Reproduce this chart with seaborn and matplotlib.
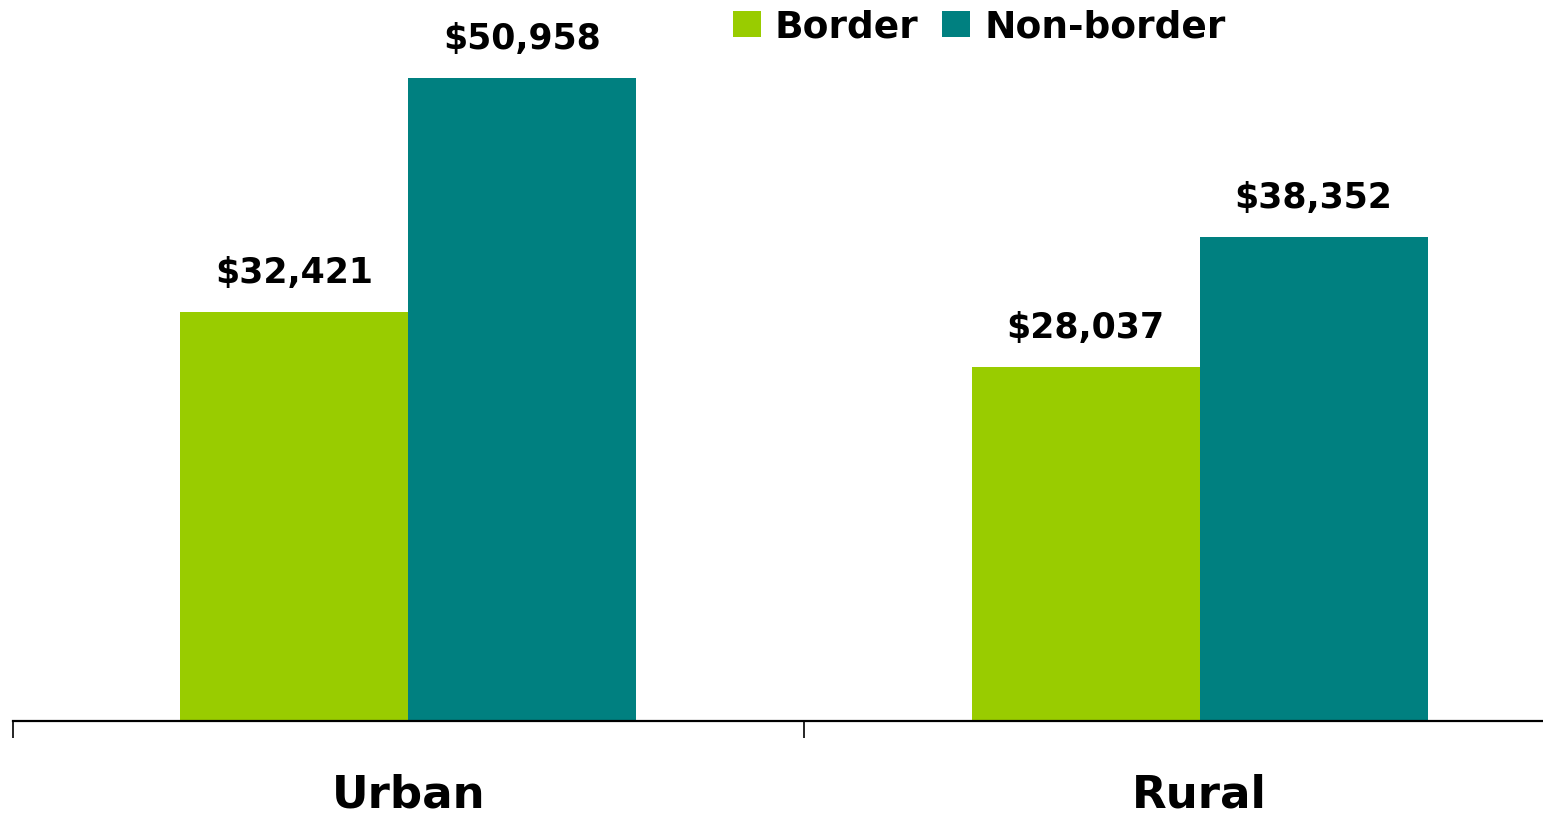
import pandas as pd
import numpy as np
import matplotlib
matplotlib.use("Agg")
import matplotlib.pyplot as plt
import seaborn as sns

# data
areas = ["Urban", "Rural"]
groups = ["Border", "Non-border"]
border_income = [32421, 28037]
nonborder_income = [50958, 38352]
colors = ["#99CC00", "#008080"]

df = pd.DataFrame({
    "area": areas * 2,
    "group": [groups[0]] * 2 + [groups[1]] * 2,
    "income": border_income + nonborder_income,
})

sns.set_style("white")
plt.rcParams["font.family"] = ["DejaVu Sans"]
plt.rcParams["text.color"] = "black"
plt.rcParams["xtick.color"] = "black"

fig = plt.figure(figsize=(15.43, 8.15), dpi=100)
# axes is a bit wider than the figure: the right category edge is cut off
ax = fig.add_axes([12.6 / 1543, 94 / 815, 1582.8 / 1543, 721 / 815])

sns.barplot(data=df, x="area", y="income", hue="group", order=areas,
            hue_order=groups, palette=colors, saturation=1, width=0.576,
            linewidth=0, edgecolor="none", ax=ax, legend=True)

ax.set_xlim(-0.5, 1.5)
ax.set_ylim(0, 57131)
ax.set_xlabel("")
ax.set_ylabel("")
ax.set_yticks([])

for side in ["left", "top", "right"]:
    ax.spines[side].set_visible(False)
ax.spines["bottom"].set_color("black")
ax.spines["bottom"].set_linewidth(1.6)

ax.set_xticks([-0.5, 0.5, 1.5], minor=True)
ax.tick_params(axis="x", which="minor", length=12, width=1.2, color="black",
               direction="out", bottom=True)
ax.tick_params(axis="x", which="major", length=0, pad=38, labelcolor="black")
for lab in ax.get_xticklabels():
    lab.set_fontsize(32.5)
    lab.set_fontweight("bold")

for cont in ax.containers:
    ax.bar_label(cont, labels=["${:,.0f}".format(v) for v in cont.datavalues],
                 padding=16, fontsize=25, fontweight="bold", color="black")

handles, labels = ax.get_legend_handles_labels()
ax.get_legend().remove()
fig.legend(handles, labels, loc="center left",
           bbox_to_anchor=(733 / 1543, 1 - 27 / 815), ncol=2,
           frameon=False, borderpad=0, borderaxespad=0,
           handlelength=0.75, handleheight=0.7, handletextpad=0.37,
           columnspacing=0.62, labelcolor="black",
           prop={"size": 27, "weight": "bold"})

fig.savefig("out.png", dpi=100)
